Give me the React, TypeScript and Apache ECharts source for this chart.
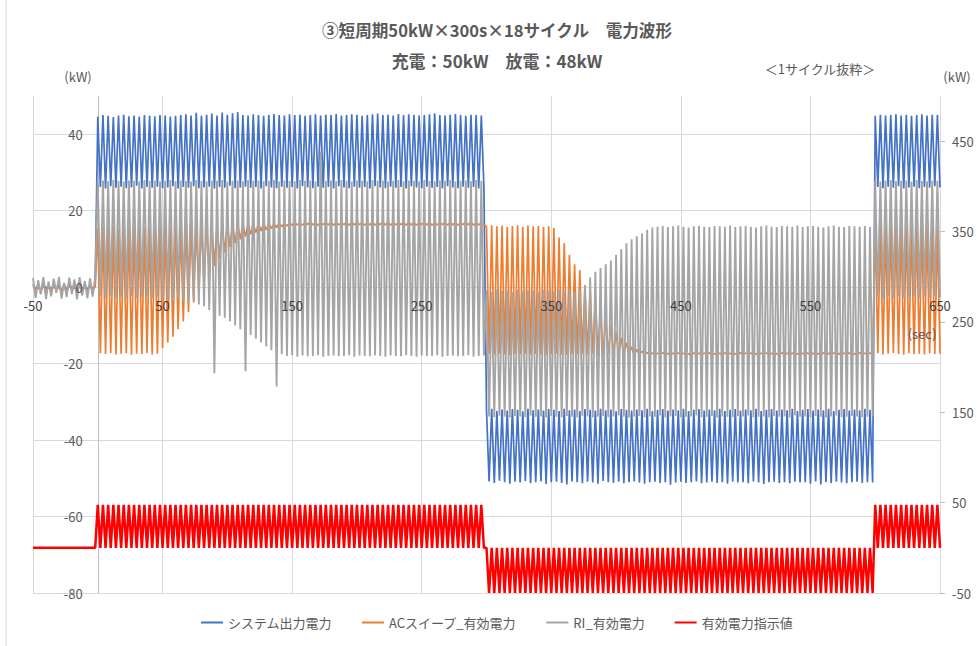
import React, { useEffect, useRef } from "react";
import * as echarts from "echarts";

// ---------- labels ----------
const seriesNames = ["システム出力電力", "ACスイープ_有効電力", "RI_有効電力", "有効電力指示値"];
const seriesColors = ["#4472C4", "#ED7D31", "#A5A5A5", "#FF0000"];
const titleText = "③短周期50kW×300s×18サイクル　電力波形";
const subTitleText = "充電：50kW　放電：48kW";
const noteText = "＜1サイクル抜粋＞";

// segment start times (sec): idle, charge, discharge, charge again
const segmentStarts = [-50, 0, 300, 600];
// seconds between successive extremes of the waveform
const halfPeriod = 2;

// ---------- システム出力電力 (kW, left axis) ----------
const blueIdleHi = [0.8, 0.5, 1.0, 0.6, 0.9, 0.4, 0.7, 1.0, 0.5, 0.8, 0.6, 0.9, 0.7];
const blueIdleLo = [-0.6, -0.9, -0.4, -0.8, -0.5, -1.0, -0.7, -0.4, -0.9, -0.6, -0.8, -0.5];
const blueChargeHi = [
  44.6, 45.0, 44.8, 44.5, 44.9, 45.1, 44.7, 44.9, 44.6, 45.0, 44.8, 44.7, 45.0, 44.9, 44.6,
  44.8, 45.0, 45.2, 44.9, 45.6, 44.8, 45.1, 45.4, 44.9, 45.7, 45.1, 45.5, 45.8, 45.0, 44.9,
  45.2, 45.0, 44.8, 45.1, 45.3, 45.0, 44.9, 45.2, 45.0, 45.1, 44.8, 45.0, 45.2, 44.9, 45.1,
  45.0, 45.3, 44.9, 45.0, 45.2, 45.1, 44.8, 45.0, 45.2, 45.4, 45.0, 45.1, 44.9, 45.3, 45.0,
  45.2, 45.1, 44.9, 45.0, 45.2, 45.5, 45.0, 44.9, 45.1, 45.3, 45.0, 44.8, 45.1, 45.0, 44.9,
];
const blueChargeLo = [
  26.2, 25.8, 26.4, 26.0, 26.3, 25.9, 26.1, 26.5, 25.8, 26.2, 26.0, 26.3, 25.9, 26.1, 26.4,
  25.8, 26.2, 26.0, 26.4, 25.9, 26.1, 26.3, 25.8, 26.2, 26.0, 26.5, 25.9, 26.1, 26.3, 26.0,
  26.2, 25.8, 26.4, 26.1, 25.9, 26.3, 26.0, 26.2, 25.8, 26.4, 26.1, 25.9, 26.3, 26.0, 26.2,
  25.8, 26.4, 26.1, 25.9, 26.3, 26.0, 26.2, 25.8, 26.4, 26.1, 25.9, 26.3, 26.0, 26.2, 25.8,
  26.4, 26.1, 25.9, 26.3, 26.0, 26.2, 25.8, 26.4, 26.1, 25.9, 26.3, 26.0, 26.2, 25.8, 26.1,
];
const blueDisHi = [
  -32.2, -31.8, -32.4, -32.0, -32.3, -31.9, -32.1, -32.5, -31.8, -32.2, -32.0, -32.3, -31.9, -32.1, -32.4,
  -31.8, -32.2, -32.0, -32.4, -31.9, -32.1, -32.3, -31.8, -32.2, -32.0, -32.5, -31.9, -32.1, -32.3, -32.0,
  -32.2, -31.8, -32.4, -32.1, -31.9, -32.3, -32.0, -32.2, -31.8, -32.4, -32.1, -31.9, -32.3, -32.0, -32.2,
  -31.8, -32.4, -32.1, -31.9, -32.3, -32.0, -32.2, -31.8, -32.4, -32.1, -31.9, -32.3, -32.0, -32.2, -31.8,
  -32.4, -32.1, -31.9, -32.3, -32.0, -32.2, -31.8, -32.4, -32.1, -31.9, -32.3, -32.0, -32.2, -31.8, -32.1,
];
const blueDisLo = [
  -50.8, -51.2, -50.6, -51.0, -51.4, -50.9, -51.1, -50.7, -51.3, -51.0, -50.8, -51.5, -51.0, -50.9, -51.2,
  -51.6, -50.8, -51.0, -51.3, -50.9, -51.1, -51.4, -50.7, -51.0, -51.2, -50.9, -51.3, -51.0, -50.8, -51.1,
  -51.4, -51.0, -50.9, -51.2, -51.0, -51.7, -51.1, -50.9, -51.2, -51.0, -50.8, -51.3, -51.1, -50.9, -51.2,
  -51.0, -51.4, -50.9, -51.1, -51.0, -51.3, -50.8, -51.1, -51.5, -51.0, -50.9, -51.2, -51.0, -51.3, -50.9,
  -51.1, -51.0, -51.4, -50.8, -51.6, -51.0, -51.2, -50.9, -51.1, -51.3, -51.0, -50.9, -51.2, -51.0, -51.1,
];
const blueC2Hi = [44.8, 45.1, 44.9, 45.0, 45.2, 44.9, 45.1, 44.8, 45.0, 45.2, 44.9, 45.1, 45.0];
const blueC2Lo = [26.2, 25.9, 26.3, 26.0, 26.4, 25.8, 26.1, 26.3, 25.9, 26.2, 26.0, 26.4, 26.1];

// ---------- ACスイープ_有効電力 (kW, left axis) ----------
const orangeIdleHi = [0.3, 0.1, 0.4, 0.2, 0.3, 0.0, 0.2, 0.4, 0.1, 0.3, 0.2, 0.4, 0.1];
const orangeIdleLo = [-0.8, -1.1, -0.9, -1.2, -0.7, -1.0, -1.1, -0.8, -1.2, -0.9, -1.0, -0.8];
const orangeChargeHi = [
  15.4, 15.8, 15.5, 15.7, 15.3, 15.6, 15.8, 15.4, 15.6, 15.5, 15.7, 15.4,
  15.6, 15.8, 15.9, 16.0, 16.1, 16.0, 16.2, 16.1, 16.3, 16.2, 16.3, 16.4, 16.3, 16.4, 16.5, 16.4,
  16.5, 16.6, 16.5, 16.6, 16.7, 16.6, 16.7, 16.8, 16.7,
  16.8, 16.9, 16.8, 16.9, 17.0, 16.9, 16.8, 16.9, 17.0, 16.9, 16.8, 16.9, 17.0, 16.9, 16.8, 16.9,
  17.0, 16.8, 16.9, 17.0, 16.9, 16.8, 16.9, 17.0, 16.9, 16.8, 16.9, 17.0, 16.9, 16.8, 16.9, 17.0,
  16.9, 16.8, 16.9, 17.0, 16.9, 16.8,
];
const orangeChargeLo = [
  -17.3, -17.5, -17.2, -17.6, -17.4, -17.3, -17.7, -17.4, -17.5, -17.2, -17.6, -17.4,
  -16.0, -14.5, -13.0, -11.0, -9.0, -6.5, -4.0, -1.5, 1.0, 3.5, 5.5, 7.5, 9.0, 10.5, 11.5, 12.5,
  13.2, 13.8, 14.3, 14.7, 15.0, 15.3, 15.6, 15.8, 16.0,
  16.2, 16.3, 16.2, 16.4, 16.3, 16.2, 16.4, 16.3, 16.2, 16.3, 16.4, 16.2, 16.3, 16.4, 16.2, 16.3,
  16.2, 16.4, 16.3, 16.2, 16.3, 16.4, 16.2, 16.3, 16.2, 16.4, 16.3, 16.2, 16.3, 16.4, 16.2, 16.3,
  16.2, 16.4, 16.3, 16.2, 16.3, 16.4,
];
const orangeDisHi = [
  15.8, 16.2, 15.9, 16.1, 15.7, 16.0, 16.2, 15.8, 16.1, 15.9, 16.0, 15.7, 15.9, 15.5,
  13.0, 11.5, 8.5, 6.0, 4.5, 0.5, -0.5, -2.5, -5.5, -8.0, -10.0, -11.8, -13.3, -14.6, -15.6, -16.3,
  -16.8, -17.1,
  -17.2, -17.3, -17.2, -17.4, -17.3, -17.2, -17.3, -17.4, -17.2, -17.3, -17.3, -17.2, -17.4, -17.3,
  -17.2, -17.3, -17.4, -17.2, -17.3, -17.2, -17.4, -17.3, -17.2, -17.3, -17.4, -17.2, -17.3, -17.2,
  -17.4, -17.3, -17.2, -17.3, -17.4, -17.2, -17.3, -17.2, -17.4, -17.3, -17.2, -17.4, -17.2, -17.3,
  -17.2,
];
const orangeDisLo = [
  -17.5, -17.7, -17.4, -17.6, -17.8, -17.5, -17.6, -17.4, -17.7, -17.5, -17.6, -17.8, -17.5, -17.4, -17.6,
  -17.7, -17.5, -17.6, -17.4, -17.7, -17.5, -17.8, -17.6, -17.5, -17.4, -17.7, -17.6, -17.5, -17.8, -17.6,
  -17.5, -17.7, -17.6, -17.5, -17.4, -17.6, -17.7, -17.5, -17.6, -17.8, -17.5, -17.6, -17.4, -17.7, -17.5,
  -17.6, -17.5, -17.7, -17.6, -17.4, -17.5, -17.8, -17.6, -17.5, -17.7, -17.6, -17.5, -17.4, -17.6, -17.7,
  -17.5, -17.6, -17.8, -17.5, -17.6, -17.4, -17.7, -17.5, -17.6, -17.5, -17.7, -17.6, -17.4, -17.5, -17.6,
];
const orangeC2Hi = [15.6, 15.9, 15.7, 16.0, 15.8, 15.6, 15.9, 15.7, 16.0, 15.8, 15.6, 15.9, 15.7];
const orangeC2Lo = [-17.3, -17.6, -17.4, -17.2, -17.5, -17.7, -17.3, -17.5, -17.4, -17.6, -17.3, -17.5, -17.4];

// ---------- RI_有効電力 (kW, left axis) ----------
const greyIdleHi = [2.4, 1.8, 2.6, 1.5, 2.2, 2.7, 1.2, 2.5, 2.0, 2.6, 1.6, 2.3, 2.5];
const greyIdleLo = [-2.8, -1.9, -3.1, -2.4, -1.5, -3.0, -2.6, -1.8, -3.2, -2.2, -2.9, -2.5];
const greyChargeHi = [
  27.6, 27.9, 27.7, 28.0, 27.8, 27.6, 27.9, 27.8, 27.7, 28.0, 27.8, 27.9, 27.6, 27.8, 28.0,
  27.7, 27.9, 27.8, 27.6, 28.0, 27.8, 27.7, 27.9, 27.8, 28.0, 27.6, 27.8, 27.9, 27.7, 28.0,
  27.8, 27.9, 27.7, 27.8, 28.0, 27.6, 27.9, 27.8, 27.7, 28.0, 27.8, 27.9, 27.6, 35.5, 27.8,
  27.9, 27.7, 28.0, 27.8, 27.6, 27.9, 27.8, 27.7, 28.0, 27.8, 27.9, 27.6, 27.8, 28.0, 27.7,
  27.9, 27.8, 27.6, 28.0, 27.8, 27.7, 27.9, 27.8, 28.0, 27.6, 27.8, 27.9, 27.7, 28.0, 27.8,
];
const greyChargeLo = [
  -2.4, -2.9, -2.2, -2.7, -2.5, -3.0, -2.3, -2.8, -2.6, -2.2, -2.9, -2.5,
  -3.0, -3.2, -3.5, -3.0, -3.5, -4.0, -3.2, -4.5, -5.0, -6.0, -22.5, -7.5,
  -8.0, -9.0, -10.0, -11.0, -22.0, -12.5, -13.5, -14.5, -15.5, -16.5, -26.0, -17.5,
  -18.0, -17.8, -18.2, -17.9, -18.1, -18.0, -17.8, -18.2, -18.0, -17.9, -18.1, -18.0, -17.8,
  -18.2, -17.9, -18.0, -18.1, -17.8, -18.0, -18.2, -17.9, -18.0, -18.1, -17.8, -18.0, -18.2,
  -17.9, -18.1, -18.0, -17.8, -18.2, -18.0, -17.9, -18.1, -18.0, -17.8, -18.2, -18.0, -17.9,
];
const greyDisHi = [
  -0.8, -1.2, -0.6, -1.0, -0.9, -1.3, -0.7, -1.1, -0.8, -1.0, -1.2, -0.6, -0.9, -1.1, -0.8,
  -1.0, -0.7, -1.2, -0.9,
  0.5, 2.5, 4.0, 5.0, 6.0, 7.0, 8.5, 10.0, 11.5, 12.5, 13.3, 14.0, 15.0, 15.6,
  15.8, 16.0, 15.7, 15.9, 16.1, 15.8, 15.6, 15.9, 16.0, 15.8, 15.7, 16.0, 15.9, 15.8,
  16.1, 15.7, 15.9, 16.0, 15.8, 15.6, 15.9, 16.1, 15.8, 15.7, 16.0, 15.9, 15.8, 16.1,
  15.7, 15.9, 16.0, 15.8, 15.6, 15.9, 16.1, 15.8, 15.7, 16.0, 15.9, 15.8, 16.0, 15.7,
];
const greyDisLo = [
  -33.8, -34.0, -33.6, -33.9, -34.1, -33.7, -33.8, -34.0, -33.6, -33.9, -33.8, -34.1, -33.7, -33.9, -34.0,
  -33.7, -33.9, -34.0, -33.6, -33.8, -34.1, -33.9, -33.7, -34.0, -33.8, -33.6, -33.9, -34.1, -33.8, -33.7,
  -34.0, -33.8, -33.9, -33.6, -34.1, -33.8, -33.7, -34.0, -33.9, -33.8, -33.6, -34.0, -33.9, -33.7, -34.1,
  -33.8, -33.9, -34.0, -33.7, -33.8, -33.6, -34.1, -33.9, -33.8, -34.0, -33.7, -33.9, -33.8, -34.1, -33.6,
  -33.9, -33.8, -34.0, -33.7, -33.9, -34.1, -33.8, -33.6, -34.0, -33.9, -33.7, -33.8, -34.0, -33.9, -33.8,
];
const greyC2Hi = [27.8, 27.6, 27.9, 28.0, 27.7, 27.8, 27.9, 27.6, 28.0, 27.8, 27.7, 27.9, 27.8];
const greyC2Lo = [-2.5, -2.8, -2.3, -2.7, -2.4, -2.9, -2.6, -2.2, -2.8, -2.5, -2.7, -2.3, -2.6];

// ---------- 有効電力指示値 (kW, right axis) ----------
const redIdleHi = [0, 0, 0, 0, 0, 0, 0, 0, 0, 0, 0, 0, 0];
const redIdleLo = [0, 0, 0, 0, 0, 0, 0, 0, 0, 0, 0, 0];
const redChargeHi = [
  47.5, 47.5, 47.5, 47.5, 47.5, 47.5, 47.5, 47.5, 47.5, 47.5, 47.5, 47.5, 47.5, 47.5, 47.5,
  47.5, 47.5, 47.5, 47.5, 47.5, 47.5, 47.5, 47.5, 47.5, 47.5, 47.5, 47.5, 47.5, 47.5, 47.5,
  47.5, 47.5, 47.5, 47.5, 47.5, 47.5, 47.5, 47.5, 47.5, 47.5, 47.5, 47.5, 47.5, 47.5, 47.5,
  47.5, 47.5, 47.5, 47.5, 47.5, 47.5, 47.5, 47.5, 47.5, 47.5, 47.5, 47.5, 47.5, 47.5, 47.5,
  47.5, 47.5, 47.5, 47.5, 47.5, 47.5, 47.5, 47.5, 47.5, 47.5, 47.5, 47.5, 47.5, 47.5, 47.5,
];
const redChargeLo = [
  0, 0, 0, 0, 0, 0, 0, 0, 0, 0, 0, 0, 0, 0, 0,
  0, 0, 0, 0, 0, 0, 0, 0, 0, 0, 0, 0, 0, 0, 0,
  0, 0, 0, 0, 0, 0, 0, 0, 0, 0, 0, 0, 0, 0, 0,
  0, 0, 0, 0, 0, 0, 0, 0, 0, 0, 0, 0, 0, 0, 0,
  0, 0, 0, 0, 0, 0, 0, 0, 0, 0, 0, 0, 0, 0, 0,
];
const redDisHi = [
  0, 0, 0, 0, 0, 0, 0, 0, 0, 0, 0, 0, 0, 0, 0,
  0, 0, 0, 0, 0, 0, 0, 0, 0, 0, 0, 0, 0, 0, 0,
  0, 0, 0, 0, 0, 0, 0, 0, 0, 0, 0, 0, 0, 0, 0,
  0, 0, 0, 0, 0, 0, 0, 0, 0, 0, 0, 0, 0, 0, 0,
  0, 0, 0, 0, 0, 0, 0, 0, 0, 0, 0, 0, 0, 0, 0,
];
const redDisLo = [
  -50, -50, -50, -50, -50, -50, -50, -50, -50, -50, -50, -50, -50, -50, -50,
  -50, -50, -50, -50, -50, -50, -50, -50, -50, -50, -50, -50, -50, -50, -50,
  -50, -50, -50, -50, -50, -50, -50, -50, -50, -50, -50, -50, -50, -50, -50,
  -50, -50, -50, -50, -50, -50, -50, -50, -50, -50, -50, -50, -50, -50, -50,
  -50, -50, -50, -50, -50, -50, -50, -50, -50, -50, -50, -50, -50, -50, -50,
];
const redC2Hi = [47.5, 47.5, 47.5, 47.5, 47.5, 47.5, 47.5, 47.5, 47.5, 47.5, 47.5, 47.5, 47.5];
const redC2Lo = [0, 0, 0, 0, 0, 0, 0, 0, 0, 0, 0, 0, 0];

// Interleave the read-off extremes of each segment into one time series
function buildSeries(his: number[][], los: number[][]): [number, number][] {
  const pts: [number, number][] = [];
  for (let s = 0; s < segmentStarts.length; s++) {
    const hi = his[s];
    const lo = los[s];
    const n = Math.max(hi.length, lo.length);
    let t = segmentStarts[s];
    for (let k = 0; k < n; k++) {
      if (k < hi.length) {
        pts.push([t, hi[k]]);
        t += halfPeriod;
      }
      if (k < lo.length) {
        pts.push([t, lo[k]]);
        t += halfPeriod;
      }
    }
  }
  return pts;
}

const FONT = "'Noto Sans CJK JP', 'Noto Sans', sans-serif";
const TXT = "#595959";
const GRID_LINE = "#D9D9D9";

// plot rectangle
const GRID_LEFT = 33;
const GRID_RIGHT = 37;
const GRID_TOP = 96;
const GRID_BOTTOM = 53;
const W = 977;
const H = 646;

export default function App() {
  const ref = useRef<HTMLDivElement>(null);
  useEffect(() => {
    if (!ref.current) return;
    const chart = echarts.init(ref.current, null, { renderer: "svg" });
    const data = [
      buildSeries([blueIdleHi, blueChargeHi, blueDisHi, blueC2Hi], [blueIdleLo, blueChargeLo, blueDisLo, blueC2Lo]),
      buildSeries([orangeIdleHi, orangeChargeHi, orangeDisHi, orangeC2Hi], [orangeIdleLo, orangeChargeLo, orangeDisLo, orangeC2Lo]),
      buildSeries([greyIdleHi, greyChargeHi, greyDisHi, greyC2Hi], [greyIdleLo, greyChargeLo, greyDisLo, greyC2Lo]),
      buildSeries([redIdleHi, redChargeHi, redDisHi, redC2Hi], [redIdleLo, redChargeLo, redDisLo, redC2Lo]),
    ];
    const xMin = -50, xMax = 650, yMin = -80, yMax = 50;
    const plotW = W - GRID_LEFT - GRID_RIGHT;
    const plotH = H - GRID_TOP - GRID_BOTTOM;
    // distance of the zero lines from the plot's left and bottom edges (for overlay label axes)
    const xZeroOffset = ((0 - xMin) / (xMax - xMin)) * plotW;
    const yZeroOffset = ((0 - yMin) / (yMax - yMin)) * plotH;

    const xCommon = { type: "value" as const, min: xMin, max: xMax, interval: 100 };
    const yLeftCommon = { type: "value" as const, min: yMin, max: yMax, interval: 20, position: "left" as const };
    chart.setOption({
      animation: false,
      backgroundColor: "#ffffff",
      textStyle: { fontFamily: FONT },
      grid: { left: GRID_LEFT, right: GRID_RIGHT, top: GRID_TOP, bottom: GRID_BOTTOM },
      xAxis: [
        {
          ...xCommon,
          axisLine: { show: false, onZero: true, onZeroAxisIndex: 0 },
          axisTick: { show: false },
          axisLabel: { show: false },
          splitLine: { show: true, lineStyle: { color: GRID_LINE, width: 1 } },
        },
        {
          ...xCommon,
          position: "bottom",
          offset: -yZeroOffset,
          z: 10,
          axisLine: { show: false, onZero: false },
          axisTick: { show: false },
          axisLabel: { show: true, color: "#404040", fontSize: 13, margin: 12, fontFamily: FONT },
          splitLine: { show: false },
        },
      ],
      yAxis: [
        {
          ...yLeftCommon,
          axisLine: { show: true, onZero: true, onZeroAxisIndex: 0, lineStyle: { color: "#BFBFBF" } },
          axisTick: { show: false },
          axisLabel: { show: false },
          splitLine: {
            show: true,
            lineStyle: {
              color: [GRID_LINE, GRID_LINE, GRID_LINE, GRID_LINE, GRID_LINE, GRID_LINE, GRID_LINE, "rgba(0,0,0,0)"],
              width: 1,
            },
          },
        },
        {
          type: "value",
          min: -50,
          max: 500,
          interval: 100,
          position: "right",
          axisLine: { show: false, onZero: false },
          axisTick: { show: true, length: 5, lineStyle: { color: "#BFBFBF" } },
          axisLabel: { color: TXT, fontSize: 13, margin: 12, showMaxLabel: false, fontFamily: FONT },
          splitLine: { show: false },
        },
        {
          ...yLeftCommon,
          offset: -xZeroOffset,
          z: 10,
          axisLine: { show: false, onZero: false },
          axisTick: { show: false },
          axisLabel: { color: TXT, fontSize: 13, margin: 15, showMaxLabel: false, fontFamily: FONT },
          splitLine: { show: false },
        },
      ],
      legend: {
        data: seriesNames,
        left: 196,
        top: 611,
        icon: "rect",
        itemWidth: 22,
        itemHeight: 2,
        itemGap: 30,
        textStyle: { color: TXT, fontSize: 13, fontFamily: FONT },
      },
      series: seriesNames.map((name, i) => ({
        name,
        type: "line",
        xAxisIndex: 0,
        yAxisIndex: i === 3 ? 1 : 0,
        data: data[i],
        symbol: "none",
        showSymbol: false,
        smooth: false,
        lineStyle: { color: seriesColors[i], width: [1.7, 1.7, 1.9, 2.5][i] },
        itemStyle: { color: seriesColors[i] },
      })),
      graphic: [
        { type: "line", shape: { x1: 6, y1: 0, x2: 6, y2: H }, style: { stroke: GRID_LINE, lineWidth: 1 } },
        {
          type: "text", x: 497, y: 30,
          style: { text: titleText, fill: TXT, font: `bold 16.6px ${FONT}`, textAlign: "center", textVerticalAlign: "middle" },
        },
        {
          type: "text", x: 497, y: 60,
          style: { text: subTitleText, fill: TXT, font: `bold 17px ${FONT}`, textAlign: "center", textVerticalAlign: "middle" },
        },
        {
          type: "text", x: 820, y: 68,
          style: { text: noteText, fill: TXT, font: `13px ${FONT}`, textAlign: "center", textVerticalAlign: "middle" },
        },
        {
          type: "text", x: 78, y: 76,
          style: { text: "(kW)", fill: TXT, font: `13px ${FONT}`, textAlign: "center", textVerticalAlign: "middle" },
        },
        {
          type: "text", x: 957, y: 76,
          style: { text: "(kW)", fill: TXT, font: `13px ${FONT}`, textAlign: "center", textVerticalAlign: "middle" },
        },
        {
          type: "text", x: 922, y: 333, z: 100,
          style: { text: "(sec)", fill: TXT, font: `13px ${FONT}`, textAlign: "center", textVerticalAlign: "middle" },
        },
      ],
    });
    return () => chart.dispose();
  }, []);
  return <div ref={ref} style={{ position: "fixed", left: 0, top: 0, width: W, height: H }} />;
}
